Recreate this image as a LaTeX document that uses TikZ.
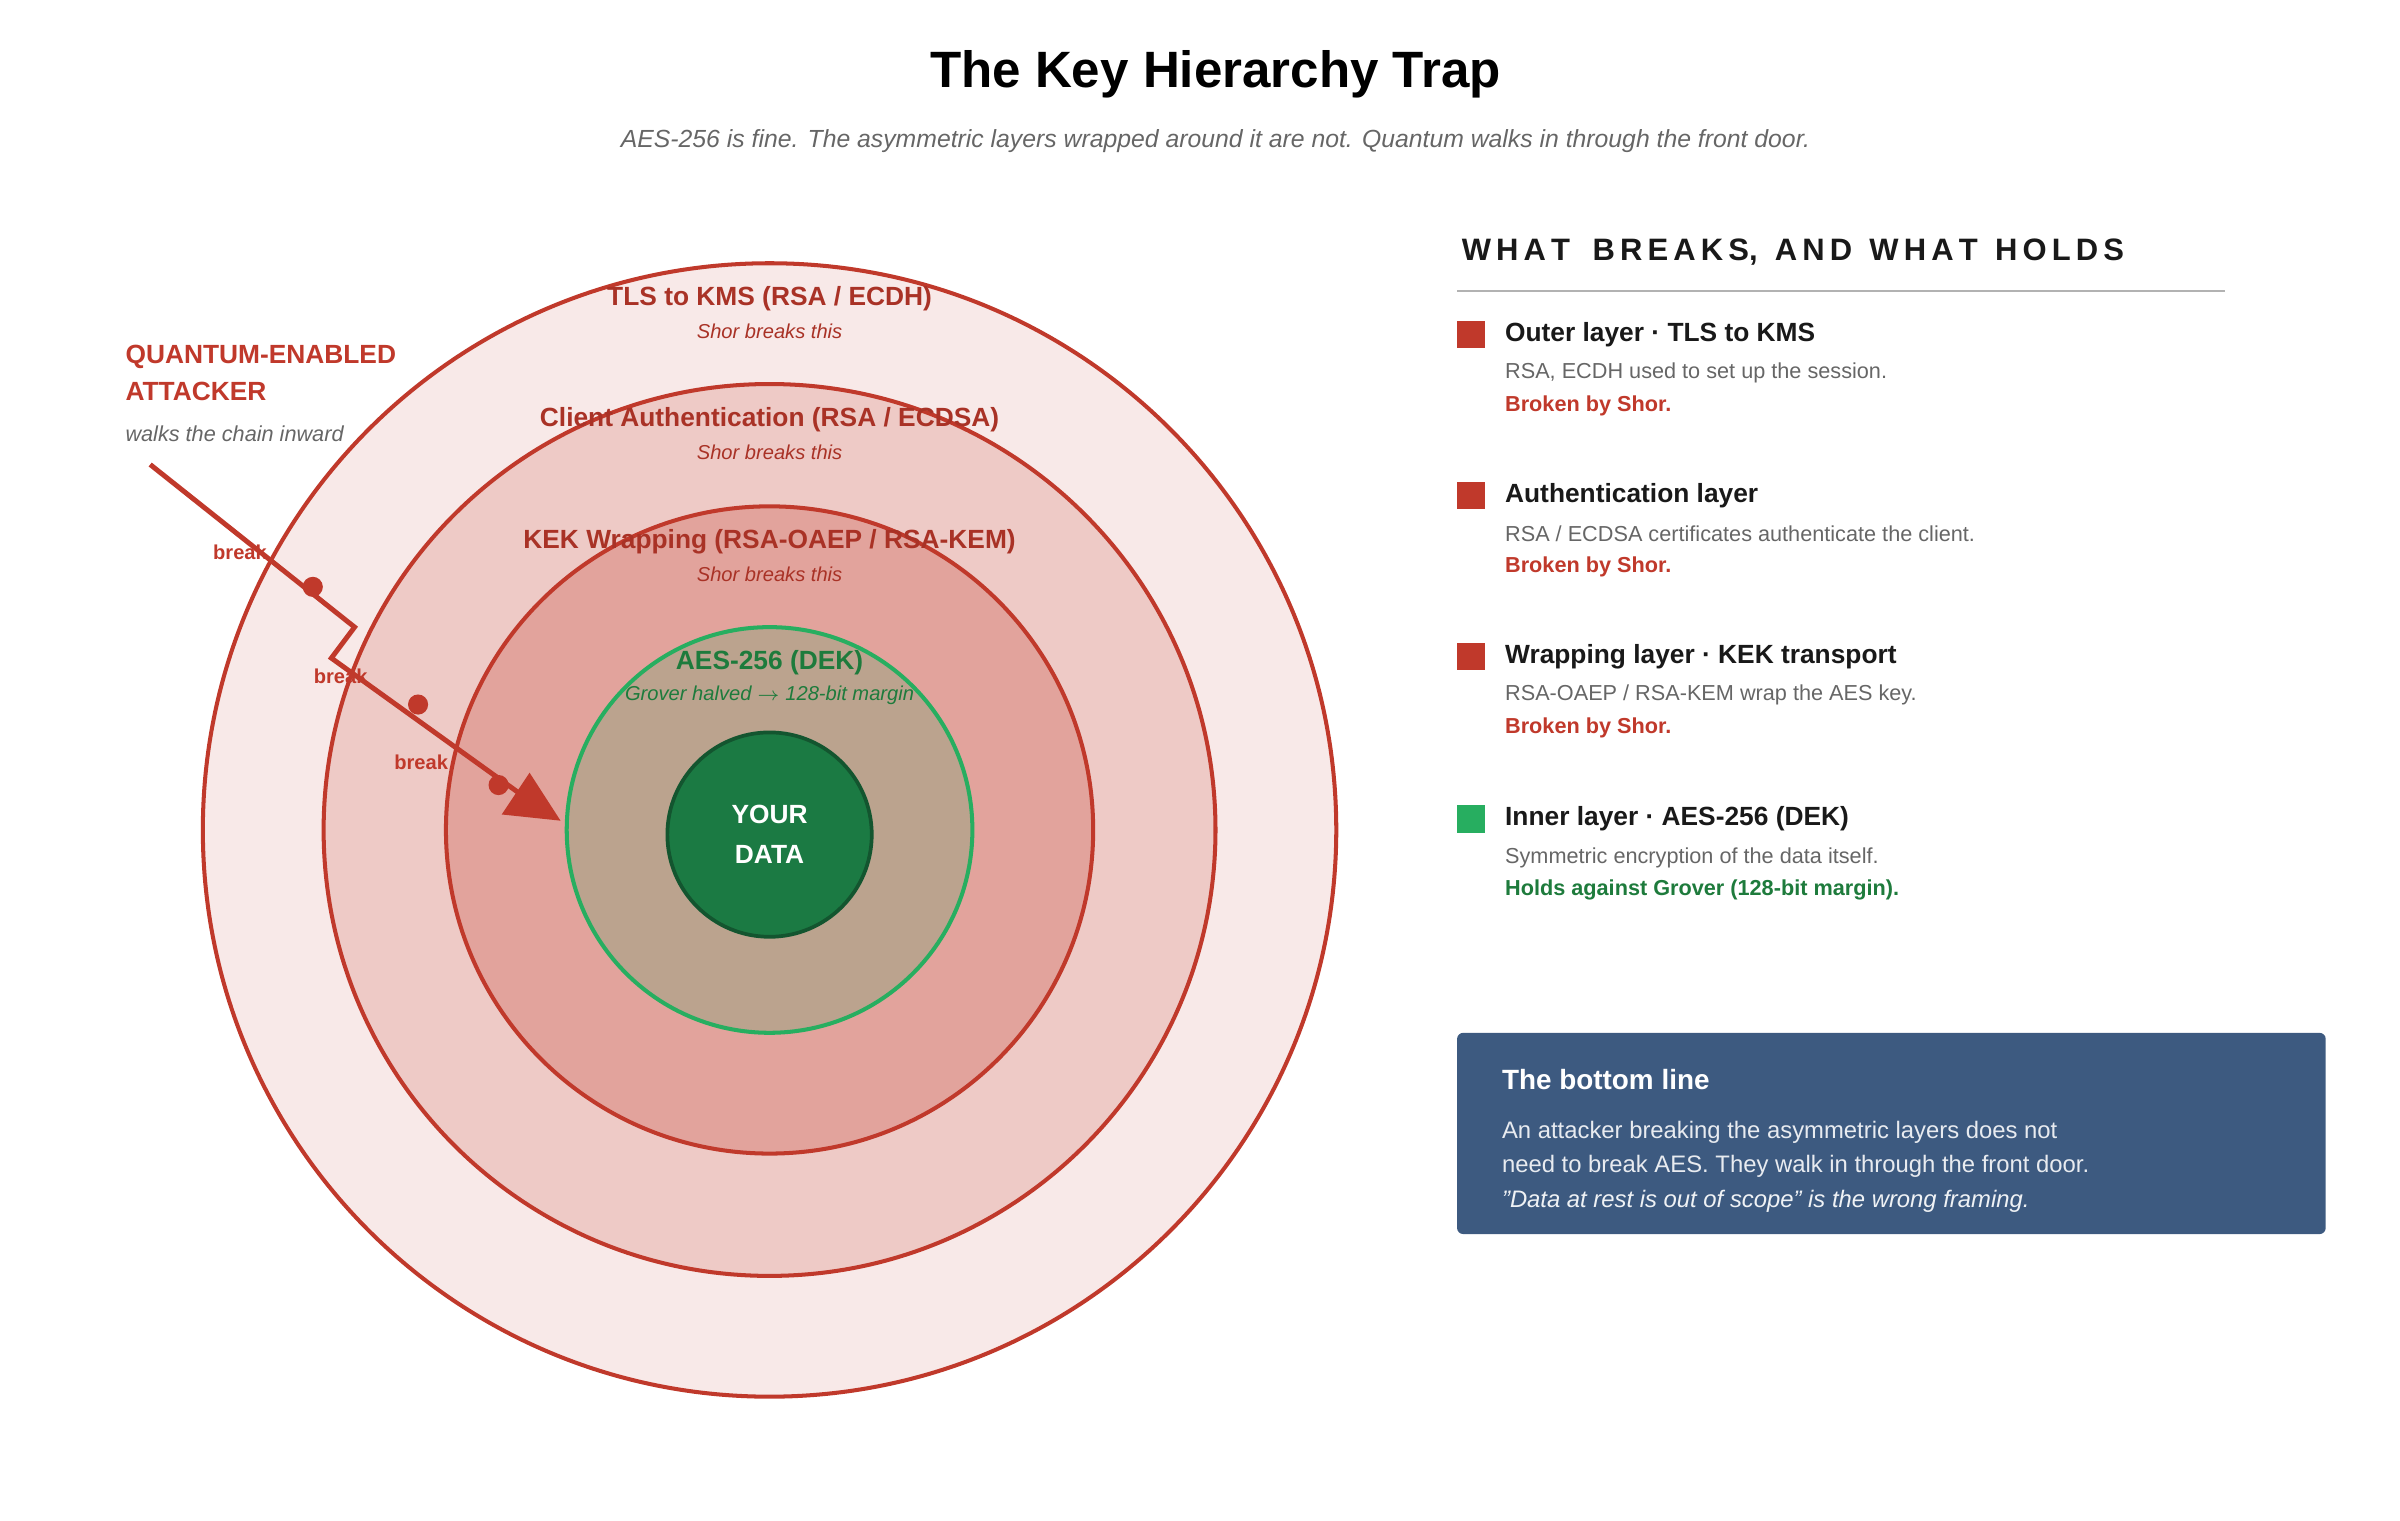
\documentclass[tikz,border=0pt]{standalone}
\usepackage{fontspec}
\setmainfont{Liberation Sans}
\usetikzlibrary{positioning}
\definecolor{brkred}{HTML}{C0392B}
\definecolor{darkred}{HTML}{A93226}
\definecolor{ringA}{HTML}{F8E9E8}
\definecolor{ringB}{HTML}{EECAC6}
\definecolor{ringC}{HTML}{E2A39C}
\definecolor{ringD}{HTML}{BBA38E}
\definecolor{holdgreen}{HTML}{27AE60}
\definecolor{coregreen}{HTML}{1B7A43}
\definecolor{txtgreen}{HTML}{1E7B3C}
\definecolor{boxblue}{HTML}{3D5A80}
\definecolor{greytxt}{HTML}{666666}
\tikzset{
  ring/.style={circle,draw=brkred,line width=1.3pt,inner sep=0pt},
  ringlabel/.style={font=\bfseries\fontsize{8.5}{10}\selectfont,text=darkred},
  ringsub/.style={font=\itshape\fontsize{6.5}{8}\selectfont,text=darkred},
  brklabel/.style={font=\bfseries\fontsize{6.5}{8}\selectfont,text=brkred},
  brkdot/.style={circle,fill=brkred,inner sep=0pt,minimum size=6.5pt},
  keysq/.style={fill=#1,minimum size=9pt,inner sep=0pt},
  keyhead/.style={anchor=west,font=\bfseries\fontsize{8.5}{10}\selectfont,text=black!90},
  keytxt/.style={anchor=west,font=\fontsize{7}{9}\selectfont,text=greytxt},
  keyres/.style={anchor=west,font=\bfseries\fontsize{7}{9}\selectfont,text=#1}
}
\begin{document}
\begin{tikzpicture}[x=0.5pt,y=-0.5pt]
      \useasboundingbox (0,0) rectangle (1550,982);
      % title
      \node (title) at (785,48) {\bfseries\fontsize{16.5}{19}\selectfont The Key Hierarchy Trap};
      \node (subtitle) at (785,91) {\itshape\fontsize{8}{10}\selectfont\color{greytxt} AES-256 is fine. The asymmetric layers wrapped around it are not. Quantum walks in through the front door.};
      % rings
      \node [ring,fill=ringA,minimum size=366pt] (tls) at (497,536) {};
      \node [ring,fill=ringB,minimum size=288pt] (auth) at (497,536) {};
      \node [ring,fill=ringC,minimum size=209pt] (kek) at (497,536) {};
      \node [circle,draw=holdgreen,line width=1.3pt,fill=ringD,minimum size=131pt] (aes) at (497,536) {};
      \node [circle,draw=coregreen!70!black,line width=1.2pt,fill=coregreen,minimum size=66pt,align=center,text=white,font=\bfseries\fontsize{8.5}{13}\selectfont] (data) at (497,539) {YOUR\\DATA};
      \node [ringlabel] (tlsl) at (497,193) {TLS to KMS (RSA / ECDH)};
      \node [ringsub] at (497,214) {Shor breaks this};
      \node [ringlabel] (authl) at (497,271) {Client Authentication (RSA / ECDSA)};
      \node [ringsub] at (497,292) {Shor breaks this};
      \node [ringlabel] (kekl) at (497,350) {KEK Wrapping (RSA-OAEP / RSA-KEM)};
      \node [ringsub] at (497,371) {Shor breaks this};
      \node [ringlabel,text=txtgreen] (aesl) at (497,428) {AES-256 (DEK)};
      \node [ringsub,text=txtgreen] at (497,449) {Grover halved $\rightarrow$ 128-bit margin};
      % attacker
      \node [anchor=west,align=left,font=\bfseries\fontsize{8.5}{12}\selectfont,text=brkred] (atk) at (74,241) {QUANTUM-ENABLED\\ATTACKER};
      \node [anchor=west,font=\itshape\fontsize{7}{9}\selectfont,text=greytxt] (atksub) at (74,280) {walks the chain inward};
      \coordinate (p0) at (97,300);
      \coordinate (p1) at (229,405);
      \coordinate (p2) at (214,425);
      \coordinate (p3) at (335,512);
      \draw [brkred,line width=1.6pt] (p0) -- (p1) -- (p2) -- (p3);
      \fill [brkred] (362,530) -- (324,526) -- (342,499) -- cycle;
      \node [brkdot] (b1) at (202,379) {};
      \node [brkdot] (b2) at (270,455) {};
      \node [brkdot] (b3) at (322,507) {};
      \node [brklabel] at (155,357) {break};
      \node [brklabel] at (220,437) {break};
      \node [brklabel] at (272,492) {break};
      % key panel
      \node [anchor=west,font=\bfseries\fontsize{10}{12}\selectfont,text=black!90] (keyt) at (937,163) {W\,H\,A\,T\, \ B\,R\,E\,A\,K\,S,\ \ A\,N\,D\ \ W\,H\,A\,T\ \ H\,O\,L\,D\,S};
      \draw [black!30,line width=0.6pt] (941,188) -- (1437,188);
      \node [keysq=brkred] (k1) at (950,216) {};
      \node [keyhead] at (965,216) {Outer layer · TLS to KMS};
      \node [keytxt] at (965,241) {RSA, ECDH used to set up the session.};
      \node [keyres=brkred] at (965,262) {Broken by Shor.};
      \node [keysq=brkred] (k2) at (950,320) {};
      \node [keyhead] at (965,320) {Authentication layer};
      \node [keytxt] at (965,345) {RSA / ECDSA certificates authenticate the client.};
      \node [keyres=brkred] at (965,366) {Broken by Shor.};
      \node [keysq=brkred] (k3) at (950,424) {};
      \node [keyhead] at (965,424) {Wrapping layer · KEK transport};
      \node [keytxt] at (965,449) {RSA-OAEP / RSA-KEM wrap the AES key.};
      \node [keyres=brkred] at (965,470) {Broken by Shor.};
      \node [keysq=holdgreen] (k4) at (950,529) {};
      \node [keyhead] at (965,529) {Inner layer · AES-256 (DEK)};
      \node [keytxt] at (965,554) {Symmetric encryption of the data itself.};
      \node [keyres=txtgreen] at (965,575) {Holds against Grover (128-bit margin).};
      % bottom line
      \fill [boxblue,rounded corners=2pt] (941,667) rectangle (1502,797);
      \node [anchor=west,font=\bfseries\fontsize{9}{11}\selectfont,text=white] (bl) at (963,697) {The bottom line};
      \node [anchor=north west,align=left,font=\fontsize{7.7}{11}\selectfont,text=white!88!boxblue] (blt) at (963,717) {An attacker breaking the asymmetric layers does not\\need to break AES. They walk in through the front door.};
      \node [anchor=west,font=\itshape\fontsize{7.7}{10}\selectfont,text=white!92!boxblue] (blq) at (963,776) {"Data at rest is out of scope" is the wrong framing.};
\end{tikzpicture}
\end{document}
